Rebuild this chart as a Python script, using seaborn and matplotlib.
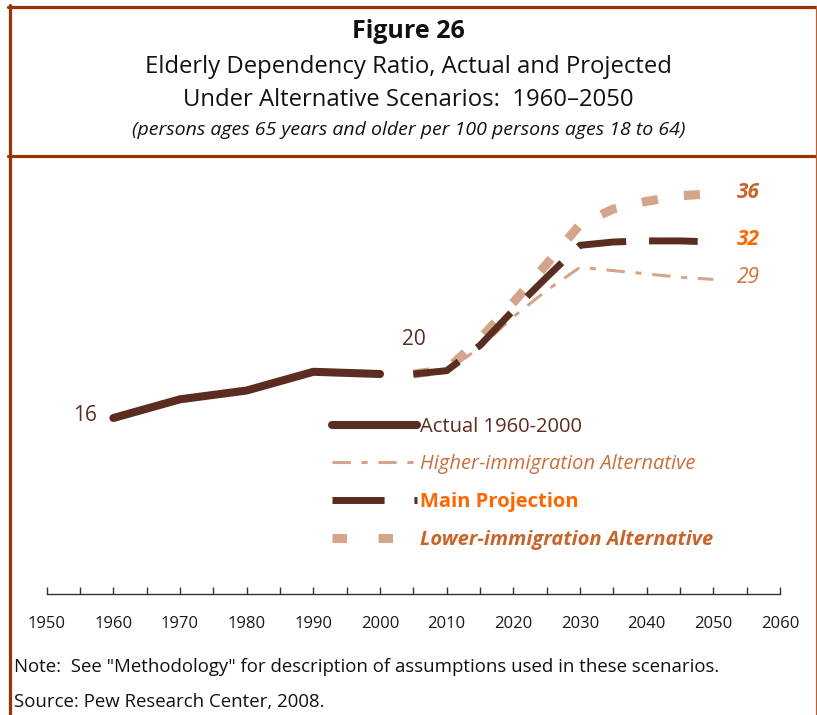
import matplotlib
matplotlib.use("Agg")
import matplotlib.pyplot as plt
from matplotlib.lines import Line2D
import seaborn as sns

# actual values 1960-2000
actual_years = [1960, 1970, 1980, 1990, 2000]
actual_vals = [16.0, 17.7, 18.5, 20.2, 20.0]

# projections 2005-2050
proj_years = [2005, 2010, 2015, 2020, 2025, 2030, 2035, 2040, 2045, 2050]
main_vals = [20.0, 20.3, 22.6, 25.8, 28.8, 31.7, 32.0, 32.1, 32.1, 32.0]
lower_vals = [20.0, 20.4, 23.2, 26.5, 30.0, 33.6, 35.0, 35.7, 36.2, 36.4]
higher_vals = [20.0, 20.3, 22.4, 25.2, 27.6, 29.7, 29.4, 29.1, 28.8, 28.6]

tick_years = list(range(1950, 2061, 10))

DARK = "#5B2C20"
TAN = "#D4A58A"
ORANGE = "#FF6600"
RUST = "#C8642A"
BORDER = "#993300"
FONT = ["Open Sans", "DejaVu Sans"]

sns.set_theme(style="white")
plt.rcParams["font.family"] = FONT

fig = plt.figure(figsize=(8.17, 7.15), dpi=100)
ax = fig.add_axes([46.7 / 817, 121 / 715, 733.3 / 817, 440 / 715])

# projection lines
sns.lineplot(x=proj_years, y=lower_vals, ax=ax, color=TAN, lw=6.5)
ax.lines[-1].set_dashes((1.8, 2.9))
ax.lines[-1].set_dash_capstyle("butt")
sns.lineplot(x=proj_years, y=higher_vals, ax=ax, color=TAN, lw=2.2)
ax.lines[-1].set_dashes((6, 3.5, 2, 3.5))
sns.lineplot(x=proj_years, y=main_vals, ax=ax, color=DARK, lw=5)
ax.lines[-1].set_dashes((7, 3.3))
ax.lines[-1].set_dash_capstyle("butt")
# actual line
sns.lineplot(x=actual_years, y=actual_vals, ax=ax, color=DARK, lw=5.8,
             solid_capstyle="round")

ax.set_xlim(1950, 2060)
ax.set_ylim(0, 40)
ax.set_yticks([])
ax.set_xticks(tick_years)
ax.set_xticks(range(1955, 2060, 10), minor=True)
ax.set_xticklabels([str(y) for y in tick_years], fontsize=12, color="#1a1a1a")
ax.tick_params(axis="x", which="both", direction="in", length=5, width=1,
               color="#333333", bottom=True, pad=16)
for s in ["top", "left", "right"]:
    ax.spines[s].set_visible(False)
ax.spines["bottom"].set_color("#333333")
ax.spines["bottom"].set_linewidth(1)
ax.set_xlabel("")
ax.set_ylabel("")
ax.set_facecolor("none")

# value labels
ax.text(1955.7, actual_vals[0] + 0.2, "16", color=DARK, fontsize=15,
        ha="center", va="center")
ax.text(2005.1, 23.1, "20", color=DARK, fontsize=15, ha="center", va="center")
ax.text(2053.6, lower_vals[-1] + 0.1, "36", color=RUST, fontsize=15,
        fontweight="bold", style="italic", ha="left", va="center")
ax.text(2053.6, main_vals[-1] + 0.2, "32", color=ORANGE, fontsize=15,
        fontweight="bold", style="italic", ha="left", va="center")
ax.text(2053.6, higher_vals[-1] + 0.2, "29", color="#D0703A", fontsize=15,
        style="italic", ha="left", va="center")

# legend
handles = [
    Line2D([], [], color=DARK, lw=5.8, solid_capstyle="round"),
    Line2D([], [], color=TAN, lw=2.2, dashes=(6, 3.5, 2, 3.5)),
    Line2D([], [], color=DARK, lw=5, dashes=(7.5, 4.3)),
    Line2D([], [], color=TAN, lw=6.5, dashes=(1.6, 3.5)),
]
labels = ["Actual 1960-2000", "Higher-immigration Alternative",
          "Main Projection", "Lower-immigration Alternative"]
leg = ax.legend(handles, labels, loc="upper left", bbox_to_anchor=(0.389, 0.403),
                frameon=False, handlelength=4.2, handletextpad=0.15,
                labelspacing=0.88, borderpad=0, borderaxespad=0,
                prop={"family": FONT, "size": 14.5})
txts = leg.get_texts()
txts[0].set_color(DARK)
txts[1].set_color("#C8703C")
txts[1].set_style("italic")
txts[2].set_color(ORANGE)
txts[2].set_fontweight("bold")
txts[3].set_color(RUST)
txts[3].set_fontweight("bold")
txts[3].set_style("italic")

# titles
fig.text(0.5, 1 - 32 / 715, "Figure 26", ha="center", va="center",
         fontsize=18, fontweight="bold", color="#111111")
fig.text(0.5, 1 - 67 / 715, "Elderly Dependency Ratio, Actual and Projected",
         ha="center", va="center", fontsize=17.2, color="#111111")
fig.text(0.5, 1 - 100 / 715, "Under Alternative Scenarios:  1960\u20132050",
         ha="center", va="center", fontsize=17.2, color="#111111")
fig.text(0.5, 1 - 130 / 715,
         "(persons ages 65 years and older per 100 persons ages 18 to 64)",
         ha="center", va="center", fontsize=14, style="italic", color="#111111")

# notes
fig.text(14 / 817, 1 - 667 / 715,
         'Note:  See "Methodology" for description of assumptions used in these scenarios.',
         ha="left", va="center", fontsize=13.4, color="#111111")
fig.text(14 / 817, 1 - 702 / 715, "Source: Pew Research Center, 2008.",
         ha="left", va="center", fontsize=13.4, color="#111111")

# frame around the figure
fig.add_artist(Line2D([9.5 / 817, 9.5 / 817], [0, 1 - 5 / 715], color=BORDER,
                      lw=2.3, transform=fig.transFigure))
fig.add_artist(Line2D([8 / 817, 1], [1 - 6.5 / 715, 1 - 6.5 / 715], color=BORDER,
                      lw=2.3, transform=fig.transFigure))
fig.add_artist(Line2D([8 / 817, 1], [1 - 155.5 / 715, 1 - 155.5 / 715],
                      color=BORDER, lw=2.3, transform=fig.transFigure))
fig.add_artist(Line2D([815.5 / 817, 815.5 / 817], [0, 1 - 6 / 715], color="#C0602A",
                      lw=0.9, transform=fig.transFigure))

fig.savefig("out.png", dpi=100)
